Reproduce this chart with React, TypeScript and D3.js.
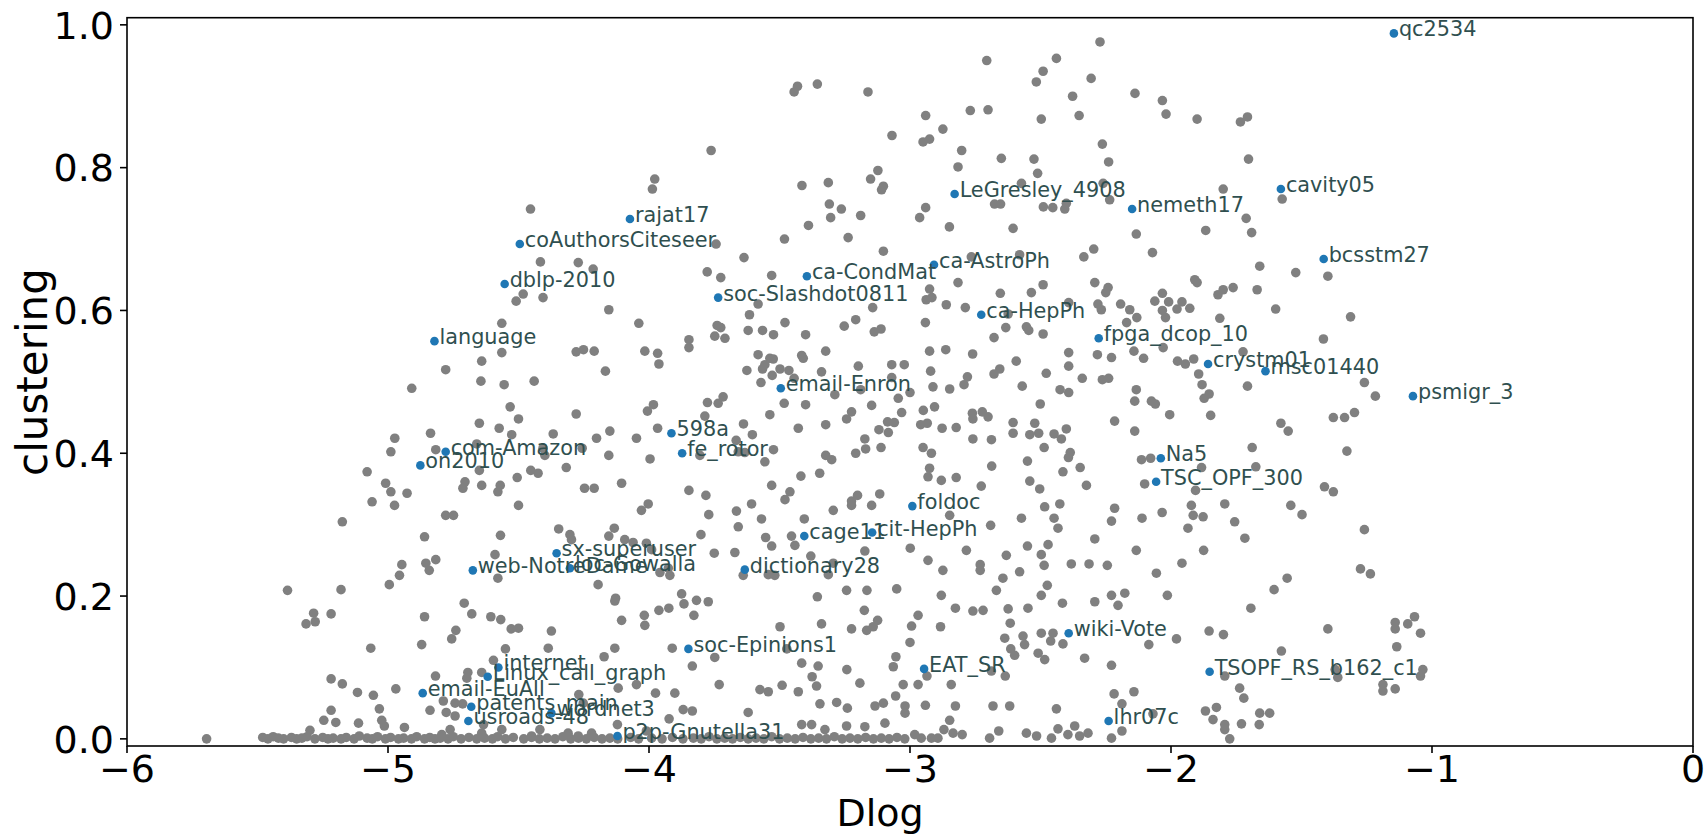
import React from 'react';
import * as d3 from 'd3';

// ---------- data ----------
const xTicks = [-6, -5, -4, -3, -2, -1, 0];
const yTicks = [0, 0.2, 0.4, 0.6, 0.8, 1.0];

const labelNames = [
  'qc2534', 'cavity05', 'LeGresley_4908', 'nemeth17', 'rajat17', 'coAuthorsCiteseer', 'bcsstm27',
  'ca-AstroPh', 'dblp-2010', 'ca-CondMat', 'soc-Slashdot0811', 'ca-HepPh', 'language', 'fpga_dcop_10',
  'crystm01', 'msc01440', 'psmigr_3', 'email-Enron', '598a', 'fe_rotor', 'com-Amazon', 'on2010', 'Na5',
  'TSC_OPF_300', 'foldoc', 'cit-HepPh', 'cage11', 'sx-superuser', 'loc-Gowalla', 'web-NotreDame',
  'dictionary28', 'wiki-Vote', 'soc-Epinions1', 'EAT_SR', 'TSOPF_RS_b162_c1', 'internet',
  'Linux_call_graph', 'email-EuAll', 'patents_main', 'usroads-48', 'wordnet3', 'p2p-Gnutella31', 'lhr07c',
];
const labelDlog = [
  -1.146, -1.579, -2.829, -2.149, -4.073, -4.495, -1.415,
  -2.908, -4.553, -3.395, -3.735, -2.727, -4.822, -2.277,
  -1.858, -1.638, -1.073, -3.495, -3.914, -3.873, -4.779, -4.876, -2.039,
  -2.057, -2.991, -3.145, -3.405, -4.354, -4.303, -4.675,
  -3.633, -2.392, -3.849, -2.946, -1.852, -4.577,
  -4.618, -4.867, -4.681, -4.692, -4.374, -4.121, -2.239,
];
const labelClustering = [
  0.988, 0.770, 0.763, 0.742, 0.728, 0.693, 0.672,
  0.664, 0.637, 0.648, 0.618, 0.594, 0.557, 0.561,
  0.525, 0.515, 0.480, 0.491, 0.428, 0.400, 0.402, 0.383, 0.393,
  0.360, 0.326, 0.289, 0.284, 0.260, 0.239, 0.236,
  0.237, 0.148, 0.126, 0.098, 0.094, 0.100,
  0.087, 0.064, 0.045, 0.025, 0.036, 0.004, 0.025,
];

const grayTop: [number, number][] = [
  [-3.431, 0.914], [-3.444, 0.906], [-3.355, 0.917], [-3.161, 0.906], [-3.069, 0.845], [-3.762, 0.824],
  [-3.978, 0.784], [-3.987, 0.770], [-3.414, 0.775], [-3.313, 0.779], [-3.123, 0.796], [-3.151, 0.784],
  [-3.102, 0.774], [-3.109, 0.769], [-4.454, 0.742], [-3.309, 0.749], [-3.263, 0.742], [-3.304, 0.730],
  [-3.189, 0.733], [-3.389, 0.719], [-3.743, 0.693], [-3.481, 0.700], [-3.237, 0.702], [-3.102, 0.683],
  [-3.636, 0.674], [-4.416, 0.668], [-4.271, 0.667],
  [-2.272, 0.976], [-2.706, 0.950], [-2.439, 0.953], [-2.490, 0.935], [-2.516, 0.920], [-2.306, 0.925],
  [-2.377, 0.900], [-2.138, 0.904], [-2.033, 0.894], [-2.019, 0.875], [-2.940, 0.873], [-2.769, 0.880],
  [-2.701, 0.881], [-2.497, 0.868], [-2.352, 0.873], [-1.900, 0.868], [-1.734, 0.864], [-1.707, 0.871],
  [-2.874, 0.854], [-2.950, 0.836], [-2.925, 0.840], [-2.263, 0.833], [-2.802, 0.824], [-2.650, 0.813],
  [-2.525, 0.812], [-2.239, 0.808], [-2.816, 0.801], [-1.703, 0.812], [-2.511, 0.792], [-2.573, 0.778],
  [-2.260, 0.778], [-1.800, 0.770], [-1.574, 0.756], [-2.676, 0.749], [-2.653, 0.749], [-2.489, 0.745],
  [-2.453, 0.744], [-2.407, 0.742], [-2.401, 0.750], [-2.235, 0.755], [-2.940, 0.744], [-2.963, 0.730],
  [-2.849, 0.717], [-2.605, 0.715], [-2.133, 0.707], [-1.867, 0.712], [-1.712, 0.729], [-1.691, 0.709],
  [-2.296, 0.686], [-2.071, 0.681], [-2.334, 0.675], [-2.765, 0.675], [-2.580, 0.678],
];

const grayUpperLeft: [number, number][] = [
  [-4.509, 0.613], [-4.564, 0.582], [-4.564, 0.541], [-4.641, 0.529], [-4.779, 0.517], [-4.909, 0.491],
  [-4.644, 0.501], [-4.555, 0.496], [-4.532, 0.465], [-4.500, 0.448], [-4.650, 0.442], [-4.574, 0.435],
  [-4.526, 0.426], [-4.837, 0.428], [-4.974, 0.421], [-4.989, 0.402], [-4.817, 0.405], [-4.660, 0.413],
  [-4.650, 0.376], [-5.080, 0.374], [-5.009, 0.358], [-4.989, 0.346], [-4.927, 0.344], [-4.705, 0.360],
  [-4.713, 0.351], [-4.641, 0.355], [-4.570, 0.355], [-4.579, 0.346], [-5.061, 0.332], [-4.975, 0.327],
  [-4.505, 0.366], [-4.500, 0.327],
  [-4.214, 0.658], [-4.482, 0.623], [-4.406, 0.618], [-4.154, 0.601], [-4.039, 0.582], [-3.777, 0.654],
  [-3.725, 0.646], [-3.530, 0.649], [-3.582, 0.609], [-3.615, 0.594], [-3.479, 0.583], [-3.143, 0.604],
  [-3.252, 0.578], [-3.208, 0.587], [-3.137, 0.570], [-3.111, 0.574], [-3.739, 0.579], [-3.725, 0.576],
  [-3.748, 0.564], [-3.709, 0.561], [-3.847, 0.559], [-3.847, 0.548], [-3.620, 0.572], [-3.565, 0.572],
  [-3.523, 0.566], [-3.400, 0.566], [-3.323, 0.543], [-4.279, 0.542], [-4.251, 0.545], [-4.210, 0.543],
  [-4.016, 0.543], [-3.967, 0.540], [-3.962, 0.525], [-4.167, 0.515], [-4.440, 0.501], [-3.582, 0.538],
  [-3.537, 0.533], [-3.524, 0.532], [-3.556, 0.524], [-3.565, 0.518], [-3.498, 0.518], [-3.464, 0.516],
  [-3.625, 0.516], [-3.415, 0.537], [-3.409, 0.533], [-3.339, 0.514], [-3.198, 0.522], [-3.070, 0.524],
  [-3.022, 0.524], [-3.571, 0.499], [-3.528, 0.509], [-3.444, 0.505], [-3.288, 0.482], [-3.189, 0.489],
  [-3.045, 0.477], [-3.000, 0.485], [-3.070, 0.506], [-3.776, 0.471], [-3.735, 0.470], [-3.716, 0.479],
  [-3.983, 0.468], [-4.006, 0.459], [-4.279, 0.455], [-3.482, 0.470], [-3.400, 0.468],
  [-3.537, 0.454], [-3.147, 0.467], [-3.032, 0.457], [-3.224, 0.458], [-3.243, 0.448], [-3.786, 0.452],
  [-3.638, 0.441], [-3.604, 0.426], [-3.428, 0.435], [-3.323, 0.440], [-3.967, 0.435], [-4.367, 0.427],
  [-4.201, 0.421], [-4.150, 0.431], [-4.048, 0.421], [-4.256, 0.407], [-4.406, 0.407], [-4.399, 0.397],
  [-4.154, 0.397], [-3.996, 0.392], [-3.805, 0.397], [-3.666, 0.418], [-3.658, 0.402], [-3.633, 0.401],
  [-3.556, 0.388], [-3.523, 0.405], [-3.323, 0.397], [-3.300, 0.391], [-3.208, 0.400], [-3.173, 0.420],
  [-3.170, 0.406], [-3.111, 0.408], [-3.119, 0.433], [-3.086, 0.444], [-3.060, 0.443], [-3.083, 0.429],
  [-4.317, 0.380], [-4.453, 0.376], [-4.425, 0.372], [-4.247, 0.351], [-4.210, 0.351],
  [-4.105, 0.358], [-3.847, 0.348], [-3.782, 0.341], [-3.530, 0.355], [-3.479, 0.335], [-3.460, 0.346],
  [-3.418, 0.368], [-3.346, 0.372], [-3.224, 0.333], [-3.201, 0.341], [-3.116, 0.343], [-4.003, 0.329],
  [-3.607, 0.329],
];

const grayUpperRight: [number, number][] = [
  [-1.660, 0.662], [-1.522, 0.653], [-2.816, 0.639], [-2.490, 0.636], [-2.654, 0.624], [-2.535, 0.625],
  [-2.925, 0.630], [-2.938, 0.615], [-2.916, 0.618], [-2.861, 0.608], [-2.788, 0.604], [-2.392, 0.611],
  [-2.292, 0.639], [-2.250, 0.625], [-2.241, 0.632], [-2.280, 0.609], [-2.267, 0.601], [-2.193, 0.609],
  [-2.158, 0.601], [-2.131, 0.590], [-2.170, 0.583], [-2.062, 0.613], [-2.033, 0.624], [-2.009, 0.612],
  [-1.958, 0.612], [-1.977, 0.602], [-1.928, 0.603], [-2.033, 0.600], [-2.021, 0.590], [-1.900, 0.639],
  [-1.909, 0.643], [-1.820, 0.622], [-1.800, 0.629], [-1.762, 0.632], [-1.670, 0.629], [-1.813, 0.589],
  [-1.599, 0.602], [-2.941, 0.583], [-2.633, 0.576], [-2.554, 0.577], [-2.545, 0.572], [-2.490, 0.567],
  [-2.678, 0.562], [-2.624, 0.595], [-2.925, 0.543], [-2.863, 0.545], [-2.760, 0.539], [-2.593, 0.529],
  [-2.392, 0.541], [-2.392, 0.522], [-2.282, 0.538], [-2.228, 0.534], [-2.142, 0.543], [-2.105, 0.533],
  [-2.030, 0.548], [-1.975, 0.529], [-1.945, 0.525], [-1.913, 0.532], [-1.724, 0.542], [-2.921, 0.515],
  [-2.656, 0.518], [-2.678, 0.511], [-2.478, 0.512], [-2.340, 0.505], [-2.263, 0.503], [-2.239, 0.505],
  [-1.894, 0.511], [-1.881, 0.496], [-1.707, 0.494], [-2.912, 0.493], [-2.848, 0.490],
  [-2.793, 0.496], [-2.780, 0.507], [-2.570, 0.494], [-2.425, 0.489], [-2.392, 0.485], [-2.133, 0.489],
  [-1.873, 0.477], [-1.854, 0.483], [-2.075, 0.473], [-2.060, 0.469], [-2.139, 0.473], [-2.501, 0.469],
  [-2.949, 0.460], [-2.906, 0.465], [-2.761, 0.456], [-2.759, 0.448], [-2.723, 0.458], [-2.701, 0.451],
  [-2.005, 0.454], [-1.848, 0.453], [-2.216, 0.445], [-2.139, 0.431], [-1.579, 0.442], [-1.551, 0.431],
  [-2.959, 0.440], [-2.934, 0.442], [-2.877, 0.435], [-2.823, 0.436], [-2.759, 0.420], [-2.688, 0.419],
  [-2.605, 0.443], [-2.605, 0.428], [-2.522, 0.442], [-2.541, 0.426], [-2.507, 0.428], [-2.448, 0.427],
  [-2.420, 0.420], [-2.401, 0.434], [-2.486, 0.408], [-2.950, 0.408], [-2.918, 0.400], [-2.386, 0.401],
  [-2.393, 0.394], [-2.348, 0.380], [-2.414, 0.374], [-2.550, 0.389], [-2.687, 0.382], [-2.925, 0.379],
  [-2.931, 0.367], [-2.880, 0.362], [-2.823, 0.366], [-2.727, 0.354], [-2.541, 0.361], [-2.503, 0.350],
  [-2.324, 0.355], [-2.113, 0.391], [-2.078, 0.393], [-2.101, 0.357], [-1.883, 0.380], [-1.906, 0.348],
  [-1.675, 0.381], [-1.689, 0.408], [-1.922, 0.327], [-1.794, 0.329], [-1.541, 0.327],
  [-1.399, 0.648], [-1.312, 0.591], [-1.416, 0.560], [-1.259, 0.499], [-1.217, 0.480], [-1.378, 0.450],
  [-1.335, 0.450], [-1.297, 0.457], [-1.326, 0.403], [-1.412, 0.353], [-1.378, 0.346],
];

const grayLowerLeft: [number, number][] = [
  [-5.175, 0.304], [-4.779, 0.313], [-4.749, 0.313], [-4.860, 0.283], [-4.569, 0.285], [-4.590, 0.258],
  [-4.947, 0.244], [-4.956, 0.229], [-4.995, 0.216], [-4.855, 0.246], [-4.817, 0.251], [-4.842, 0.236],
  [-4.579, 0.225], [-5.385, 0.208], [-5.180, 0.209], [-5.285, 0.176], [-5.314, 0.161], [-5.279, 0.164],
  [-5.218, 0.175], [-4.860, 0.171], [-4.708, 0.190], [-4.679, 0.175], [-4.606, 0.171], [-4.568, 0.167],
  [-4.528, 0.154], [-4.500, 0.155], [-4.740, 0.152], [-4.756, 0.140], [-4.871, 0.132], [-5.066, 0.127],
  [-4.550, 0.126], [-4.596, 0.110], [-5.218, 0.084], [-5.175, 0.077], [-5.117, 0.065], [-5.056, 0.061],
  [-4.970, 0.070], [-4.818, 0.088], [-4.694, 0.093], [-4.641, 0.093], [-4.698, 0.085], [-5.033, 0.042],
  [-5.218, 0.040], [-5.246, 0.026], [-5.200, 0.023], [-5.113, 0.022], [-5.024, 0.026], [-5.014, 0.018],
  [-4.937, 0.016], [-4.788, 0.053], [-4.743, 0.050], [-4.714, 0.049], [-4.839, 0.040], [-4.777, 0.037],
  [-4.743, 0.032], [-5.299, 0.012], [-5.695, 0.000], [-4.794, 0.006], [-4.762, 0.013], [-4.641, 0.008],
  [-4.564, 0.013], [-4.634, 0.020],
  [-4.029, 0.320], [-3.771, 0.314], [-3.665, 0.319], [-3.569, 0.308], [-3.658, 0.297], [-3.801, 0.286],
  [-3.750, 0.260], [-3.671, 0.261], [-3.553, 0.282], [-3.530, 0.270], [-3.441, 0.271], [-3.454, 0.284],
  [-3.405, 0.308], [-3.294, 0.320], [-3.224, 0.327], [-3.147, 0.327], [-4.346, 0.294], [-4.303, 0.286],
  [-4.297, 0.279], [-4.154, 0.284], [-4.133, 0.295], [-4.093, 0.279], [-4.061, 0.275], [-4.010, 0.274],
  [-3.990, 0.265], [-3.926, 0.239], [-3.958, 0.233], [-3.920, 0.229], [-4.195, 0.216], [-4.128, 0.197],
  [-4.131, 0.193], [-4.105, 0.166], [-4.018, 0.173], [-4.016, 0.159], [-3.962, 0.180], [-3.924, 0.183],
  [-3.875, 0.203], [-3.866, 0.189], [-3.818, 0.194], [-3.773, 0.192], [-3.828, 0.173], [-3.639, 0.229],
  [-3.543, 0.230], [-3.518, 0.229], [-3.380, 0.256], [-3.294, 0.246], [-3.313, 0.230], [-3.243, 0.208],
  [-3.165, 0.208], [-3.051, 0.210], [-3.173, 0.263], [-2.999, 0.267], [-3.355, 0.199], [-3.175, 0.180],
  [-3.124, 0.166], [-3.166, 0.152], [-3.141, 0.157], [-3.224, 0.154], [-3.339, 0.161], [-3.498, 0.157],
  [-2.994, 0.158], [-3.000, 0.135], [-4.374, 0.151], [-4.386, 0.127], [-4.131, 0.127],
  [-4.172, 0.115], [-3.911, 0.127], [-3.834, 0.102], [-3.748, 0.114], [-3.472, 0.126], [-3.415, 0.106],
  [-3.352, 0.102], [-3.375, 0.087], [-3.358, 0.074], [-3.242, 0.097], [-3.192, 0.078], [-3.054, 0.115],
  [-3.064, 0.101], [-3.026, 0.076], [-3.055, 0.060], [-3.102, 0.050], [-3.134, 0.046], [-3.019, 0.046],
  [-3.019, 0.036], [-3.240, 0.043], [-3.281, 0.051], [-3.345, 0.049], [-3.428, 0.066], [-3.490, 0.075],
  [-3.543, 0.066], [-3.575, 0.069], [-3.731, 0.076], [-3.901, 0.064], [-3.975, 0.064], [-4.048, 0.076],
  [-4.118, 0.071], [-4.269, 0.062], [-4.252, 0.050], [-3.869, 0.041], [-3.834, 0.039], [-3.620, 0.037],
  [-3.923, 0.028], [-4.121, 0.020], [-4.010, 0.011], [-4.220, 0.008], [-4.271, 0.004], [-4.310, 0.008],
  [-4.418, 0.013], [-4.450, 0.004], [-3.415, 0.020], [-3.377, 0.020], [-3.326, 0.013], [-3.243, 0.018],
  [-3.173, 0.017], [-3.096, 0.022],
];

const grayLowerRight: [number, number][] = [
  [-2.484, 0.325], [-2.426, 0.329], [-2.216, 0.323], [-1.498, 0.314], [-2.848, 0.313],
  [-2.691, 0.299], [-2.573, 0.309], [-2.448, 0.309], [-2.433, 0.295], [-2.228, 0.305], [-2.111, 0.309],
  [-2.034, 0.317], [-1.915, 0.313], [-1.877, 0.311], [-1.935, 0.295], [-1.756, 0.304], [-1.717, 0.281],
  [-2.292, 0.280], [-2.471, 0.272], [-2.497, 0.258], [-2.550, 0.270], [-2.631, 0.257], [-2.784, 0.264],
  [-2.931, 0.250], [-2.874, 0.236], [-2.731, 0.244], [-2.731, 0.236], [-2.644, 0.225], [-2.580, 0.234],
  [-2.486, 0.243], [-2.382, 0.245], [-2.314, 0.245], [-2.244, 0.243], [-2.133, 0.264], [-2.056, 0.232],
  [-1.958, 0.246], [-1.875, 0.264], [-1.555, 0.225], [-1.605, 0.209], [-1.694, 0.183], [-2.014, 0.201],
  [-2.177, 0.204], [-2.228, 0.201], [-2.203, 0.187], [-2.292, 0.192], [-2.416, 0.190], [-2.474, 0.215],
  [-2.497, 0.201], [-2.669, 0.208], [-2.880, 0.201], [-2.826, 0.183], [-2.759, 0.179], [-2.720, 0.180],
  [-2.624, 0.182], [-2.548, 0.183], [-2.616, 0.162], [-2.969, 0.173], [-2.883, 0.157],
  [-2.637, 0.141], [-2.614, 0.126], [-2.599, 0.117], [-2.567, 0.144], [-2.561, 0.132], [-2.497, 0.148],
  [-2.452, 0.148], [-2.461, 0.137], [-2.414, 0.133], [-2.509, 0.120], [-2.484, 0.111], [-2.331, 0.113],
  [-2.228, 0.103], [-2.085, 0.132], [-1.979, 0.140], [-1.854, 0.151], [-1.799, 0.146], [-1.577, 0.123],
  [-1.794, 0.088], [-1.737, 0.071], [-1.721, 0.057], [-2.688, 0.095], [-2.635, 0.088], [-2.935, 0.088],
  [-2.969, 0.076], [-2.842, 0.076], [-2.941, 0.047], [-2.826, 0.046], [-2.682, 0.046], [-2.618, 0.046],
  [-2.439, 0.042], [-2.218, 0.063], [-2.142, 0.066], [-2.188, 0.049], [-2.069, 0.035], [-1.868, 0.039],
  [-1.826, 0.044], [-1.839, 0.027], [-1.794, 0.020], [-1.730, 0.021], [-1.660, 0.036], [-1.622, 0.036],
  [-1.662, 0.020], [-2.848, 0.026], [-2.870, 0.013], [-2.835, 0.008], [-2.800, 0.006], [-2.695, 0.001],
  [-2.660, 0.011], [-2.554, 0.008], [-2.515, 0.004], [-2.458, 0.001], [-2.433, 0.014], [-2.395, 0.006],
  [-2.369, 0.018], [-2.350, 0.004], [-2.318, 0.008], [-2.228, 0.001], [-2.188, 0.011], [-1.794, 0.013],
  [-1.775, 0.000], [-2.982, 0.006], [-2.957, 0.001], [-2.918, 0.001], [-2.893, 0.001],
  [-1.259, 0.293], [-1.274, 0.238], [-1.236, 0.231], [-1.399, 0.154], [-1.141, 0.163], [-1.141, 0.154],
  [-1.093, 0.161], [-1.067, 0.171], [-1.044, 0.148], [-1.135, 0.129], [-1.371, 0.097], [-1.361, 0.086],
  [-1.035, 0.097], [-1.044, 0.088], [-1.188, 0.076], [-1.188, 0.067], [-1.141, 0.070],
];

const grayBand: [number, number][] = [
  [-5.48, 0.002], [-5.46, 0.000], [-5.44, 0.003], [-5.42, 0.001], [-5.40, 0.000], [-5.37, 0.002],
  [-5.35, 0.000], [-5.33, 0.001], [-5.31, 0.003], [-5.28, 0.000], [-5.25, 0.002], [-5.23, 0.000],
  [-5.21, 0.001], [-5.18, 0.000], [-5.16, 0.002], [-5.13, 0.000], [-5.11, 0.004], [-5.08, 0.001],
  [-5.06, 0.000], [-5.04, 0.003], [-5.01, 0.000], [-4.99, 0.002], [-4.96, 0.000], [-4.94, 0.001],
  [-4.91, 0.000], [-4.89, 0.003], [-4.86, 0.000], [-4.84, 0.002], [-4.82, 0.000], [-4.80, 0.001],
  [-4.77, 0.000], [-4.75, 0.003], [-4.72, 0.000], [-4.69, 0.002], [-4.66, 0.000], [-4.63, 0.001],
  [-4.60, 0.000], [-4.58, 0.003], [-4.55, 0.000], [-4.52, 0.002],
  [-4.48, 0.000], [-4.45, 0.002], [-4.42, 0.000], [-4.39, 0.001], [-4.36, 0.000], [-4.33, 0.003],
  [-4.30, 0.000], [-4.27, 0.001], [-4.24, 0.000], [-4.21, 0.002], [-4.18, 0.000], [-4.15, 0.001],
  [-4.12, 0.000], [-4.07, 0.002], [-4.04, 0.000], [-3.99, 0.001], [-3.95, 0.000], [-3.91, 0.002],
  [-3.87, 0.000], [-3.83, 0.001], [-3.80, 0.000], [-3.77, 0.003], [-3.74, 0.000], [-3.71, 0.001],
  [-3.68, 0.000], [-3.65, 0.002], [-3.62, 0.000], [-3.59, 0.001], [-3.56, 0.000], [-3.53, 0.003],
  [-3.50, 0.000], [-3.47, 0.001], [-3.44, 0.000], [-3.41, 0.002], [-3.38, 0.000], [-3.35, 0.001],
  [-3.32, 0.000], [-3.29, 0.003], [-3.26, 0.000], [-3.23, 0.001], [-3.20, 0.000], [-3.17, 0.002],
  [-3.14, 0.000], [-3.11, 0.001], [-3.08, 0.000], [-3.05, 0.002], [-3.02, 0.000],
];

// ---------- chart ----------
const W = 1704;
const H = 836;
const PLOT = { left: 127, right: 1693, top: 17.7, bottom: 746 };

export default function App() {
  const x = d3.scaleLinear().domain([-6, 0]).range([PLOT.left, PLOT.right]);
  const y = d3.scaleLinear().domain([-0.01, 1.01]).range([PLOT.bottom, PLOT.top]);
  const fmtX = d3.format('d');
  const fmtY = d3.format('.1f');
  const gray = [...grayTop, ...grayUpperLeft, ...grayUpperRight, ...grayLowerLeft, ...grayLowerRight, ...grayBand];
  const font = 'DejaVu Sans, Verdana, sans-serif';
  const tickLen = 7;

  return (
    <svg
      width={W}
      height={H}
      viewBox={`0 0 ${W} ${H}`}
      style={{ position: 'absolute', left: 0, top: 0, background: '#fff' }}
      fontFamily={font}
    >
      <rect x={0} y={0} width={W} height={H} fill="#fff" />
      <g>
        {gray.map(([a, b], i) => (
          <circle key={`g${i}`} cx={x(a)} cy={y(b)} r={4.8} fill="#808080" />
        ))}
      </g>
      <g>
        {labelNames.map((n, i) => (
          <circle key={`b${i}`} cx={x(labelDlog[i])} cy={y(labelClustering[i])} r={4.3} fill="#1f77b4" />
        ))}
      </g>
      <g>
        {labelNames.map((n, i) => (
          <text
            key={`t${i}`}
            x={x(labelDlog[i]) + 5}
            y={y(labelClustering[i]) + 3}
            fontSize={20.8}
            fill="#2f4f4f"
          >
            {n}
          </text>
        ))}
      </g>
      <rect
        x={PLOT.left}
        y={PLOT.top}
        width={PLOT.right - PLOT.left}
        height={PLOT.bottom - PLOT.top}
        fill="none"
        stroke="#000"
        strokeWidth={1.6}
      />
      <g>
        {xTicks.map((t) => (
          <g key={`xt${t}`}>
            <line x1={x(t)} x2={x(t)} y1={PLOT.bottom} y2={PLOT.bottom + tickLen} stroke="#000" strokeWidth={1.6} />
            <text x={x(t)} y={782} textAnchor="middle" fontSize={38} fill="#000">
              {fmtX(t)}
            </text>
          </g>
        ))}
      </g>
      <g>
        {yTicks.map((t) => (
          <g key={`yt${t}`}>
            <line x1={PLOT.left - tickLen} x2={PLOT.left} y1={y(t)} y2={y(t)} stroke="#000" strokeWidth={1.6} />
            <text x={114} y={y(t)} dy="0.36em" textAnchor="end" fontSize={38} fill="#000">
              {fmtY(t)}
            </text>
          </g>
        ))}
      </g>
      <text x={880} y={826} textAnchor="middle" fontSize={38} fill="#000">
        Dlog
      </text>
      <text
        transform={`translate(47, 372) rotate(-90)`}
        textAnchor="middle"
        fontSize={42}
        fill="#000"
      >
        clustering
      </text>
    </svg>
  );
}
